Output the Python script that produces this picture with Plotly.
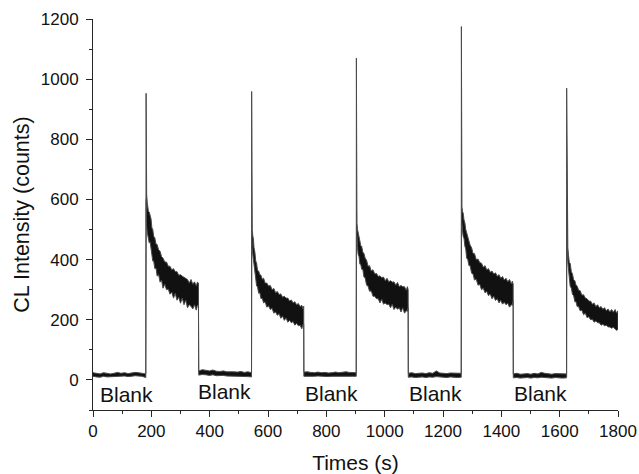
import numpy as np
import plotly.graph_objects as go

# ---------------- data ----------------
# Blank (baseline) segments: time (s), upper / lower edge of the noisy trace (counts)
blank1_t = [0, 12, 24, 36, 48, 60, 72, 84, 96, 108, 120, 132, 144, 156, 168, 181]
blank1_hi = [24, 22, 20, 24, 21, 20, 22, 25, 22, 24, 21, 23, 25, 24, 23, 20]
blank1_lo = [12, 10, 9, 12, 10, 9, 11, 12, 12, 13, 11, 12, 14, 13, 12, 8]

blank2_t = [362.5, 375, 387, 399, 411, 423, 435, 447, 459, 471, 483, 495, 507, 519, 531, 543.5]
blank2_hi = [30, 34, 32, 30, 33, 29, 28, 30, 27, 28, 27, 26, 28, 25, 27, 24]
blank2_lo = [16, 18, 17, 15, 17, 14, 14, 15, 13, 13, 12, 12, 13, 11, 11, 10]

blank3_t = [723, 735, 747, 759, 771, 783, 795, 807, 819, 831, 843, 855, 867, 879, 891, 902.5]
blank3_hi = [26, 27, 25, 24, 26, 24, 25, 23, 24, 26, 24, 25, 27, 25, 24, 24]
blank3_lo = [12, 13, 12, 12, 13, 11, 12, 11, 12, 13, 12, 12, 14, 12, 12, 12]

blank4_t = [1081, 1093, 1105, 1117, 1129, 1141, 1153, 1165, 1177, 1189, 1201, 1213, 1225, 1237, 1249, 1262.5]
blank4_hi = [22, 24, 21, 22, 23, 21, 24, 22, 30, 23, 22, 21, 23, 22, 21, 22]
blank4_lo = [9, 10, 8, 9, 10, 8, 10, 9, 11, 10, 9, 8, 10, 9, 8, 9]

blank5_t = [1441, 1453, 1465, 1477, 1489, 1501, 1513, 1525, 1537, 1549, 1561, 1573, 1585, 1597, 1609, 1623.5]
blank5_hi = [20, 22, 19, 20, 21, 19, 22, 20, 25, 22, 20, 19, 21, 20, 19, 20]
blank5_lo = [7, 8, 6, 7, 8, 6, 8, 7, 9, 8, 7, 6, 8, 7, 6, 7]

# Sample injections: spike followed by decay (upper / lower edge of the noise band)
pulse1_t = [182, 182.5, 183, 184, 186, 188, 190, 193, 196, 199, 202, 205, 208, 212, 216, 220,
            225, 230, 235, 240, 246, 252, 258, 264, 270, 276, 282, 288, 294, 300, 306, 312,
            318, 324, 330, 336, 342, 348, 354, 358, 361.5]
pulse1_hi = [953, 885, 640, 615, 590, 575, 560, 558, 545, 535, 505, 500, 478, 472, 452, 450,
             432, 428, 410, 405, 392, 392, 378, 378, 366, 370, 360, 360, 348, 350, 345, 342,
             338, 334, 322, 334, 318, 326, 312, 325, 322]
pulse1_lo = [12, 600, 530, 510, 490, 470, 470, 455, 458, 430, 422, 395, 396, 370, 372, 345,
             350, 325, 332, 305, 318, 300, 302, 285, 292, 272, 288, 265, 275, 255, 272, 250,
             265, 240, 250, 245, 236, 250, 232, 248, 250]

pulse2_t = [544, 544.5, 545, 546, 548, 550, 552, 555, 558, 561, 564, 568, 572, 576, 580, 585,
            590, 596, 602, 608, 614, 620, 626, 632, 638, 644, 650, 656, 662, 668, 674, 680,
            686, 692, 698, 704, 710, 716, 720, 722.5]
pulse2_hi = [959, 700, 560, 500, 478, 470, 440, 425, 395, 388, 365, 362, 350, 348, 335, 338,
             322, 322, 312, 314, 300, 304, 290, 294, 284, 286, 275, 278, 272, 272, 262, 266,
             256, 260, 250, 254, 244, 248, 236, 245]
pulse2_lo = [14, 480, 440, 420, 410, 390, 380, 345, 338, 312, 310, 288, 290, 270, 272, 256,
             260, 242, 246, 234, 238, 222, 226, 215, 220, 205, 212, 198, 206, 192, 198, 190,
             194, 182, 188, 180, 182, 170, 185, 185]

pulse3_t = [903, 903.5, 904, 905, 907, 909, 912, 915, 918, 921, 925, 929, 933, 938, 943, 948,
            954, 960, 966, 972, 978, 984, 990, 996, 1002, 1008, 1014, 1020, 1026, 1032, 1038,
            1044, 1050, 1056, 1062, 1068, 1074, 1078, 1080.5]
pulse3_hi = [1070, 715, 560, 520, 500, 492, 470, 462, 445, 445, 425, 420, 405, 398, 378, 380,
             362, 366, 352, 354, 344, 346, 340, 342, 330, 338, 326, 330, 325, 326, 315,
             324, 310, 314, 310, 310, 298, 310, 300]
pulse3_lo = [14, 560, 500, 470, 440, 418, 410, 385, 385, 368, 368, 342, 340, 315, 312, 295,
             296, 278, 278, 270, 270, 256, 268, 252, 256, 250, 252, 240, 252, 234, 242,
             235, 240, 226, 240, 222, 230, 228, 240]

pulse4_t = [1263, 1263.5, 1264, 1265, 1267, 1269, 1272, 1275, 1278, 1281, 1285, 1289, 1293,
            1298, 1303, 1308, 1314, 1320, 1326, 1332, 1338, 1344, 1350, 1356, 1362, 1368,
            1374, 1380, 1386, 1392, 1398, 1404, 1410, 1416, 1422, 1428, 1434, 1438, 1440.5]
pulse4_hi = [1175, 710, 600, 575, 560, 555, 532, 522, 500, 488, 468, 462, 448, 440, 420, 420,
             400, 402, 390, 388, 375, 380, 366, 370, 358, 362, 352, 356, 345, 350, 338, 344,
             332, 338, 326, 334, 320, 328, 318]
pulse4_lo = [12, 560, 530, 510, 495, 478, 470, 445, 435, 405, 400, 380, 380, 355, 352, 332,
             335, 315, 318, 300, 305, 290, 294, 280, 286, 270, 278, 264, 270, 256, 265, 252,
             258, 250, 255, 242, 250, 248, 262]

pulse5_t = [1624, 1624.5, 1625, 1626, 1628, 1630, 1633, 1636, 1640, 1644, 1648, 1652, 1656,
            1660, 1665, 1670, 1676, 1682, 1688, 1694, 1700, 1706, 1712, 1718, 1724, 1730,
            1736, 1742, 1748, 1754, 1760, 1766, 1772, 1778, 1784, 1790, 1795, 1800]
pulse5_hi = [970, 875, 560, 480, 440, 418, 390, 388, 360, 352, 332, 330, 315, 312, 298, 297,
             282, 283, 272, 270, 262, 262, 252, 256, 244, 250, 240, 244, 235, 240, 230, 236,
             226, 234, 225, 234, 222, 230]
pulse5_lo = [12, 600, 470, 420, 390, 352, 340, 312, 305, 284, 280, 260, 260, 244, 244, 230,
             232, 217, 222, 207, 210, 200, 202, 192, 196, 190, 190, 182, 185, 180, 182, 176,
             176, 172, 175, 170, 165, 168]

# Labels
blank_text = ["Blank", "Blank", "Blank", "Blank", "Blank"]
blank_x = [116, 451, 816, 1174, 1534]
blank_y = [-47, -40, -46, -46, -46]

x_ticks = [0, 200, 400, 600, 800, 1000, 1200, 1400, 1600, 1800]
y_ticks = [0, 200, 400, 600, 800, 1000, 1200]

# ---------------- build the trace ----------------
seg_t = [blank1_t, pulse1_t, blank2_t, pulse2_t, blank3_t, pulse3_t, blank4_t, pulse4_t, blank5_t, pulse5_t]
seg_hi = [blank1_hi, pulse1_hi, blank2_hi, pulse2_hi, blank3_hi, pulse3_hi, blank4_hi, pulse4_hi, blank5_hi, pulse5_hi]
seg_lo = [blank1_lo, pulse1_lo, blank2_lo, pulse2_lo, blank3_lo, pulse3_lo, blank4_lo, pulse4_lo, blank5_lo, pulse5_lo]

T = np.concatenate([np.asarray(s, float) for s in seg_t])
HI = np.concatenate([np.asarray(s, float) for s in seg_hi])
LO = np.concatenate([np.asarray(s, float) for s in seg_lo])

poly_x = np.concatenate([T, T[::-1]])
poly_y = np.concatenate([HI, LO[::-1]])

INK = "#111111"
EDGE = "#4a4a4a"
AX = "#262626"
FONT = "Liberation Sans, Arial, sans-serif"

fig = go.Figure()
fig.add_trace(go.Scatter(
    x=poly_x, y=poly_y, mode="lines", fill="toself",
    fillcolor=INK, line=dict(color=EDGE, width=1),
    hoverinfo="skip", showlegend=False,
))

for txt, xx, yy in zip(blank_text, blank_x, blank_y):
    fig.add_annotation(x=xx, y=yy, text=txt, showarrow=False,
                       xanchor="center", yanchor="middle",
                       font=dict(family=FONT, size=21, color=INK))

fig.update_layout(
    width=639, height=474,
    margin=dict(l=93, r=21, t=19, b=64),
    paper_bgcolor="white", plot_bgcolor="white",
    font=dict(family=FONT, color=INK),
    showlegend=False,
)
fig.update_xaxes(
    range=[0, 1800], tickvals=x_ticks, showgrid=False, zeroline=False,
    showline=True, linecolor=AX, linewidth=1,
    ticks="outside", ticklen=6, tickwidth=1, tickcolor=AX,
    minor=dict(ticks="outside", ticklen=3, tickwidth=1, tickcolor=AX, dtick=100, tick0=0, showgrid=False),
    tickfont=dict(family=FONT, size=17, color=INK),
    title=dict(text="Times (s)", font=dict(family=FONT, size=21, color=INK), standoff=14),
    automargin=False,
)
fig.update_yaxes(
    range=[-100, 1200], tickvals=y_ticks, showgrid=False, zeroline=False,
    showline=True, linecolor=AX, linewidth=1,
    ticks="outside", ticklen=6, tickwidth=1, tickcolor=AX,
    minor=dict(ticks="outside", ticklen=3, tickwidth=1, tickcolor=AX, dtick=100, tick0=0, showgrid=False),
    tickfont=dict(family=FONT, size=17, color=INK),
    ticklabelstandoff=4,
    title=dict(text="CL Intensity (counts)", font=dict(family=FONT, size=21.5, color=INK), standoff=5),
    automargin=False,
)

fig.write_html("out.html", include_plotlyjs=True, config={"displayModeBar": False},
               post_script="document.body.style.margin='0';document.body.style.overflow='hidden';")
